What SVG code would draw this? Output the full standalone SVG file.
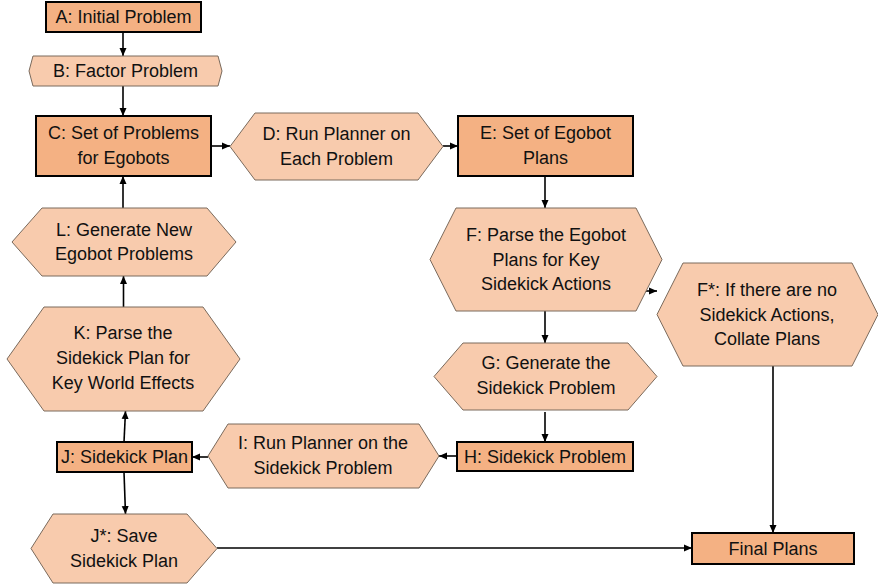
<svg xmlns="http://www.w3.org/2000/svg" width="878" height="587" viewBox="0 0 878 587">
<style>
.box{fill:#F4B183;stroke:#000;stroke-width:2}
.hex{fill:#F8CBAD;stroke:#7a6a5c;stroke-width:1}
text{font-family:"Liberation Sans",Arial,sans-serif;font-size:18px;fill:#111;text-anchor:middle;dominant-baseline:central}
.c{fill:none;stroke:#000;stroke-width:1.6;marker-end:url(#ah)}
</style>
<defs>
<marker id="ah" markerUnits="userSpaceOnUse" markerWidth="8" markerHeight="8" viewBox="0 0 8 8" refX="8" refY="4" orient="auto">
<path d="M0,0.5 L8,4 L0,7.5 Z" fill="#000"/>
</marker>
</defs>
<rect width="878" height="587" fill="#fff"/>
<g id="connectors">
<line class="c" x1="123" y1="32" x2="123" y2="56"/>
<line class="c" x1="123" y1="86" x2="123" y2="116"/>
<line class="c" x1="211" y1="146" x2="230" y2="146"/>
<line class="c" x1="443" y1="146" x2="458" y2="146"/>
<line class="c" x1="545" y1="176" x2="545" y2="208"/>
<line class="c" x1="641" y1="291" x2="657" y2="291"/>
<line class="c" x1="545" y1="311" x2="545" y2="343"/>
<line class="c" x1="545" y1="412" x2="545" y2="442"/>
<line class="c" x1="457" y1="456" x2="439" y2="456"/>
<line class="c" x1="208" y1="457" x2="192" y2="457"/>
<line class="c" x1="124" y1="442" x2="125.5" y2="411"/>
<line class="c" x1="124" y1="472" x2="125.5" y2="514"/>
<line class="c" x1="123.5" y1="307" x2="123.5" y2="276"/>
<line class="c" x1="123" y1="208" x2="123" y2="176"/>
<line class="c" x1="217" y1="548" x2="692" y2="548"/>
<line class="c" x1="773" y1="366" x2="773" y2="533"/>
</g>
<g id="A"><rect class="box" x="46" y="2" width="155" height="30"/><text x="123.5" y="17">A: Initial Problem</text></g>
<g id="B"><polygon class="hex" points="29,71 33,56 218,56 222,71 218,86 33,86"/><text x="125.5" y="71">B: Factor Problem</text></g>
<g id="C"><rect class="box" x="36" y="116" width="175" height="60"/><text x="123.5" y="133">C: Set of Problems</text><text x="123.5" y="158">for Egobots</text></g>
<g id="D"><polygon class="hex" points="230,146.5 255,113 418,113 443,146.5 418,180 255,180"/><text x="336.5" y="134">D: Run Planner on</text><text x="336.5" y="159">Each Problem</text></g>
<g id="E"><rect class="box" x="458" y="116" width="175" height="60"/><text x="545.5" y="133">E: Set of Egobot</text><text x="545.5" y="158">Plans</text></g>
<g id="F"><polygon class="hex" points="430,259.5 456,208 636,208 662,259.5 636,311 456,311"/><text x="546" y="235">F: Parse the Egobot</text><text x="546" y="260">Plans for Key</text><text x="546" y="284">Sidekick Actions</text></g>
<g id="Fstar"><polygon class="hex" points="657,314.5 683,263 852,263 878,314.5 852,366 683,366"/><text x="767" y="290">F*: If there are no</text><text x="767" y="315">Sidekick Actions,</text><text x="767" y="339">Collate Plans</text></g>
<g id="G"><polygon class="hex" points="434,376.5 463,343 628,343 657,376.5 628,410 463,410"/><text x="546" y="363">G: Generate the</text><text x="546" y="388">Sidekick Problem</text></g>
<g id="H"><rect class="box" x="457" y="442" width="176" height="29"/><text x="545" y="456.5">H: Sidekick Problem</text></g>
<g id="I"><polygon class="hex" points="208,456 228,424 419,424 439,456 419,488 228,488"/><text x="323" y="443">I: Run Planner on the</text><text x="323" y="468">Sidekick Problem</text></g>
<g id="J"><rect class="box" x="57" y="442" width="135" height="30"/><text x="124.5" y="457">J: Sidekick Plan</text></g>
<g id="Jstar"><polygon class="hex" points="31,548.5 53,514 187,514 217,548.5 187,583 53,583"/><text x="124" y="536">J*: Save</text><text x="124" y="561">Sidekick Plan</text></g>
<g id="K"><polygon class="hex" points="7,359 44,307 203,307 240,359 203,411 44,411"/><text x="123" y="333">K: Parse the</text><text x="123" y="358">Sidekick Plan for</text><text x="123" y="383">Key World Effects</text></g>
<g id="L"><polygon class="hex" points="12,242 42,208 207,208 236,242 207,276 42,276"/><text x="124" y="230">L: Generate New</text><text x="124" y="254">Egobot Problems</text></g>
<g id="Final"><rect class="box" x="692" y="533" width="162" height="31"/><text x="773" y="548.5">Final Plans</text></g>
</svg>
